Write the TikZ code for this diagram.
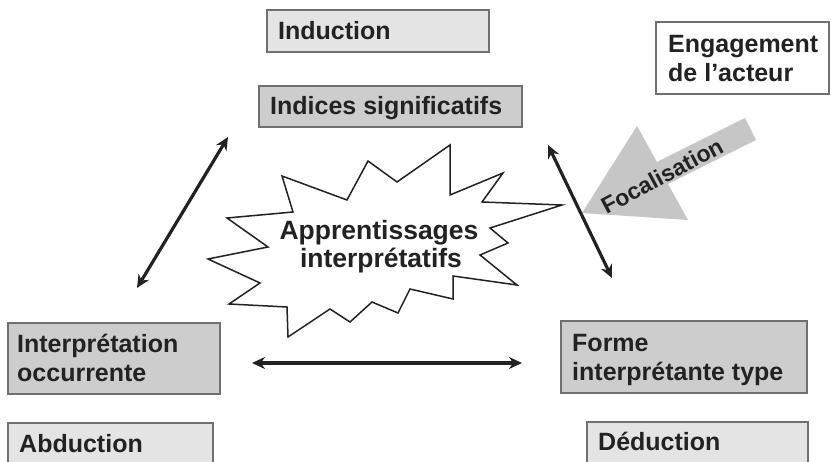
\documentclass[tikz,border=0pt]{standalone}
\usepackage{fontspec}
\setmainfont{Liberation Sans}
\usetikzlibrary{arrows.meta}
\definecolor{lightbox}{HTML}{E4E4E4}
\definecolor{darkbox}{HTML}{CDCDCD}
\definecolor{boxline}{HTML}{707070}
\definecolor{txt}{HTML}{222222}
\definecolor{focal}{HTML}{C6C6C6}
\begin{document}
\begin{tikzpicture}[x=1pt,y=-1pt,
  box/.style={draw=boxline, line width=1.3pt, inner sep=0pt, outer sep=0pt, anchor=north west},
  lbox/.style={box, fill=lightbox},
  dbox/.style={box, fill=darkbox},
  wbox/.style={box, fill=white},
  lbl/.style={anchor=base west, inner sep=0pt, text=txt, font=\fontsize{25}{29}\selectfont\bfseries},
  clbl/.style={lbl, anchor=base, font=\fontsize{26.5}{30}\selectfont\bfseries},
  dbl/.style={{Stealth[length=13pt,width=12pt]}-{Stealth[length=13pt,width=12pt]}, line width=3.2pt, draw=txt},
  burst/.style={draw=txt, line width=1.5pt, fill=white, line join=miter},
  focalarrow/.style={fill=focal, draw=none}]
\useasboundingbox (0,0) rectangle (831,462);
\clip (0,0) rectangle (831,462);
\fill[white] (0,0) rectangle (831,462);

% boxes
\node[lbox, minimum width=222pt, minimum height=42pt] (ind) at (267,10) {};
\node[dbox, minimum width=263pt, minimum height=41pt] (ids) at (259,86) {};
\node[wbox, minimum width=173pt, minimum height=72pt] (eng) at (656,22) {};
\node[dbox, minimum width=212pt, minimum height=71pt] (io) at (8,323) {};
\node[lbox, minimum width=205pt, minimum height=60pt] (abd) at (8,423) {};
\node[dbox, minimum width=246pt, minimum height=72pt] (fit) at (561,321) {};
\node[lbox, minimum width=221pt, minimum height=60pt] (ded) at (587,422) {};

% labels
\node[lbl] (ind-t) at (278,40) {Induction};
\node[lbl] (ids-t) at (270,115) {Indices significatifs};
\node[lbl] (eng-t1) at (668,53) {Engagement};
\node[lbl] (eng-t2) at (668,82) {de l’acteur};
\node[lbl] (io-t1) at (17,353) {Interprétation};
\node[lbl] (io-t2) at (17,382) {occurrente};
\node[lbl] (abd-t) at (19,453) {Abduction};
\node[lbl] (fit-t1) at (572,352) {Forme};
\node[lbl] (fit-t2) at (572,381) {interprétante type};
\node[lbl] (ded-t) at (598,451) {Déduction};

% focalisation arrow
\fill[focalarrow] (582,213) -- (637,126) -- (657,162) -- (745,118) -- (756,140)
  -- (668,184) -- (688,220) -- cycle;
\node[inner sep=0pt, text=txt, font=\fontsize{23}{27}\selectfont\bfseries, rotate=28] (foc) at (662,176) {Focalisation};

% starburst
\draw[burst] (282,176) -- (347,200) -- (368,161) -- (397,182) -- (450,145) -- (450,195)
  -- (503,173) -- (482,202) -- (562,205) -- (490,228) -- (508,243) -- (480,255)
  -- (517,285) -- (453,276) -- (453,299) -- (410,289) -- (398,313) -- (372,302)
  -- (350,322) -- (330,309) -- (288,337) -- (287,307) -- (229,304) -- (260,283)
  -- (208,259) -- (268,247) -- (227,218) -- (293,212) -- cycle;
\node[clbl] (app1) at (379,240) {Apprentissages};
\node[clbl] (app2) at (381,268) {interprétatifs};

% connectors
\coordinate (l1) at (137,288);
\coordinate (l2) at (228,137);
\coordinate (r1) at (548,145);
\coordinate (r2) at (612,278);
\coordinate (h1) at (252,363);
\coordinate (h2) at (522,363);
\draw[dbl] (l1) -- (l2);
\draw[dbl] (r1) -- (r2);
\draw[dbl] (h1) -- (h2);
\end{tikzpicture}
\end{document}
